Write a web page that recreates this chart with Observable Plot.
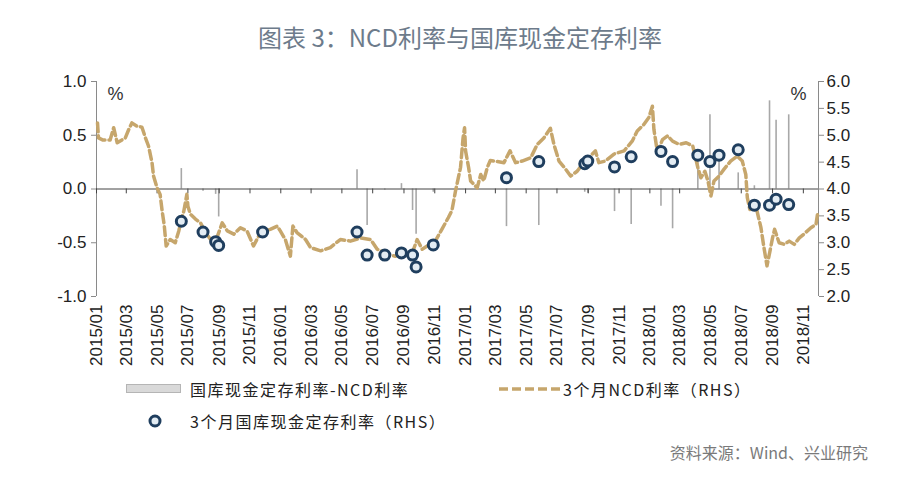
<!DOCTYPE html>
<html>
<head>
<meta charset="utf-8">
<script src="https://cdn.jsdelivr.net/npm/d3@7"></script>
<script src="https://cdn.jsdelivr.net/npm/@observablehq/plot@0.6"></script>
<style>
  html, body { margin: 0; padding: 0; background: #fff; }
  #wrap { position: relative; width: 900px; height: 478px; overflow: hidden; background: #fff; }
  #chart { position: absolute; left: 0; top: 0; }
  .title { position: absolute; left: 0; width: 920px; text-align: center; top: 23px; font: 24px "Noto Sans CJK SC", sans-serif; color: #6d7b8b; line-height: 28px; }
  .leg { position: absolute; font: 16px "Noto Sans CJK SC", sans-serif; color: #222; letter-spacing: 1.5px; line-height: 20px; white-space: nowrap; }
  .src { position: absolute; right: 32px; top: 441px; font: 16px "Noto Sans CJK SC", sans-serif; color: #7a7a7a; line-height: 22px; }
  .sw { position: absolute; }
</style>
</head>
<body>
<div id="wrap">
  <div id="chart"></div>
  <div class="title">图表 3：NCD利率与国库现金定存利率</div>
  <svg class="sw" style="left:126px;top:383px" width="56" height="12"><rect x="0.5" y="1.5" width="54" height="8" fill="#d9d9d9" stroke="#b5b5b5"/></svg>
  <div class="leg" style="left:190px;top:379px">国库现金定存利率-NCD利率</div>
  <svg class="sw" style="left:498px;top:383px" width="64" height="12"><line x1="1" y1="6" x2="63" y2="6" stroke="#c6a66c" stroke-width="3.5" stroke-dasharray="9,4"/></svg>
  <div class="leg" style="left:563px;top:379px">3个月NCD利率（RHS）</div>
  <svg class="sw" style="left:146px;top:412px" width="18" height="18"><circle cx="9" cy="9" r="5" fill="#e3ecf3" stroke="#1f3e5e" stroke-width="3"/></svg>
  <div class="leg" style="left:190px;top:411px">3个月国库现金定存利率（RHS）</div>
  <div class="src">资料来源：Wind、兴业研究</div>
</div>
<script>
// ---- data ----
const ncdDates = [
  "2015-01-03","2015-01-05","2015-01-14","2015-01-28","2015-02-04","2015-02-11","2015-02-27","2015-03-06","2015-03-12","2015-03-22",
  "2015-04-01","2015-04-08","2015-04-14","2015-04-21","2015-04-24","2015-05-01","2015-05-07","2015-05-11","2015-05-15","2015-05-19",
  "2015-05-27","2015-06-06","2015-06-13","2015-06-19","2015-06-23","2015-06-29","2015-07-01","2015-07-06","2015-07-16","2015-07-26",
  "2015-08-05","2015-08-15","2015-08-25","2015-09-07","2015-09-17","2015-09-30","2015-10-13","2015-10-26","2015-11-08","2015-11-22",
  "2015-12-11","2015-12-25","2015-12-31","2016-01-10","2016-01-20","2016-01-25","2016-02-02","2016-02-19","2016-02-29","2016-03-20",
  "2016-04-08","2016-04-28","2016-05-18","2016-06-07","2016-06-27","2016-07-10","2016-07-30","2016-08-15","2016-09-01","2016-09-14",
  "2016-09-27","2016-10-07","2016-10-17","2016-11-02","2016-11-15","2016-11-28","2016-12-05","2016-12-12","2016-12-22","2016-12-27",
  "2016-12-30","2017-01-01","2017-01-07","2017-01-11","2017-01-17","2017-01-24","2017-01-31","2017-02-06","2017-02-13","2017-02-19",
  "2017-03-05","2017-03-18","2017-03-30","2017-04-10","2017-04-23","2017-05-10","2017-05-23","2017-06-05","2017-06-18","2017-06-25",
  "2017-07-05","2017-07-18","2017-07-28","2017-08-10","2017-08-23","2017-09-05","2017-09-15","2017-09-22","2017-10-05","2017-10-22",
  "2017-11-11","2017-11-27","2017-12-07","2017-12-20","2017-12-30","2018-01-06","2018-01-09","2018-01-16","2018-01-26","2018-02-05",
  "2018-02-15","2018-02-28","2018-03-14","2018-03-27","2018-04-06","2018-04-12","2018-04-20","2018-04-26","2018-05-02","2018-05-08",
  "2018-05-18","2018-05-28","2018-06-10","2018-06-23","2018-07-03","2018-07-10","2018-07-13","2018-07-18","2018-07-30","2018-08-09",
  "2018-08-15","2018-08-21","2018-08-27","2018-09-01","2018-09-05","2018-09-14","2018-09-24","2018-10-04","2018-10-14","2018-10-24",
  "2018-11-02","2018-11-16","2018-11-26","2018-11-29"
];
const ncdValues = [
  5.23,4.95,4.91,4.91,5.14,4.86,4.95,5.11,5.23,5.17,
  5.15,4.95,4.80,4.49,4.24,4.02,3.90,3.59,3.34,2.94,
  3.06,3.00,3.22,3.47,3.59,3.90,3.68,3.53,3.44,3.37,
  3.19,3.06,3.03,3.37,3.22,3.16,3.28,3.22,2.94,3.19,
  3.25,3.31,3.22,3.06,2.75,3.31,3.19,3.06,2.91,2.85,
  2.91,3.06,3.03,3.09,3.06,2.88,2.79,2.75,2.85,2.72,
  3.06,2.88,2.94,3.03,3.25,3.47,3.60,3.96,4.40,4.95,
  5.14,4.71,4.40,4.15,4.09,4.02,4.27,4.15,4.40,4.53,
  4.51,4.49,4.71,4.49,4.52,4.58,4.83,4.95,5.13,4.83,
  4.52,4.37,4.24,4.33,4.49,4.61,4.71,4.49,4.52,4.65,
  4.71,4.89,5.08,5.20,5.33,5.54,5.11,4.68,4.92,4.99,
  4.89,4.83,4.86,4.80,4.40,4.21,4.33,4.15,3.87,4.15,
  4.24,4.37,4.52,4.61,4.52,4.27,3.84,3.62,3.68,3.28,
  2.91,2.57,2.85,3.09,3.25,3.00,2.97,3.03,2.97,3.09,
  3.16,3.28,3.34,3.53
];
const tcdDates = [
  "2015-06-18","2015-07-31","2015-08-25","2015-08-31","2015-11-26","2016-05-31","2016-06-20","2016-07-25","2016-08-27","2016-09-18",
  "2016-09-25","2016-10-29","2017-03-23","2017-05-26","2017-08-25","2017-08-31","2017-10-23","2017-11-25","2018-01-23","2018-02-15",
  "2018-04-06","2018-04-30","2018-05-18","2018-06-25","2018-07-27","2018-08-26","2018-09-08","2018-10-03"
];
const tcdValues = [
  3.40,3.20,3.02,2.95,3.20,3.20,2.77,2.77,2.81,2.77,
  2.55,2.96,4.21,4.51,4.47,4.52,4.41,4.60,4.70,4.51,
  4.63,4.51,4.63,4.73,3.70,3.70,3.81,3.71
];
const spreadValues = [
  0.19,-0.02,-0.05,-0.26,0.00,0.18,-0.34,-0.01,0.05,-0.20,
  -0.42,-0.03,-0.35,-0.34,-0.03,-0.04,-0.21,-0.33,-0.16,-0.37,
  0.26,0.69,0.30,0.15,0.03,0.82,0.64,0.69
];
const leftTicks = [-1, -0.5, 0, 0.5, 1];
const rightTicks = [2.0, 2.5, 3.0, 3.5, 4.0, 4.5, 5.0, 5.5, 6.0];
const xStart = "2015-01-01", xEnd = "2018-12-01";

// ---- build ----
const toRight = v => (v - 4) / 2;      // RHS value -> LHS coordinate
const fromRight = y => y * 2 + 4;
const ncd = ncdDates.map((d, i) => ({date: new Date(d), v: ncdValues[i]}));
const tcd = tcdDates.map((d, i) => ({date: new Date(d), v: tcdValues[i], s: spreadValues[i]}));
const domain = [new Date(xStart), new Date(xEnd)];
const monthTicks = d3.utcMonth.every(2).range(domain[0], domain[1]);

const chart = Plot.plot({
  width: 900,
  height: 380,
  marginTop: 81,
  marginBottom: 84,
  marginLeft: 96,
  marginRight: 82,
  style: {fontFamily: "'Liberation Sans', Arial, sans-serif", fontSize: "17px", color: "#222", background: "transparent"},
  x: {type: "utc", domain, label: null},
  y: {domain: [-1, 1], label: null},
  marks: [
    Plot.ruleX(tcd, {x: "date", y1: 0, y2: "s", stroke: "#a8a8a8", strokeWidth: 1.6}),
    Plot.ruleX(domain, {stroke: "#8a8a8a", strokeWidth: 1}),
    Plot.ruleY([0], {stroke: "#444", strokeWidth: 1}),
    Plot.ruleX(monthTicks, {x: d => d, y1: 0, y2: -0.045, stroke: "#444"}),
    Plot.line(ncd, {x: "date", y: d => toRight(d.v), stroke: "#c6a66c", strokeWidth: 3.5, strokeDasharray: "9,4", curve: "linear"}),
    Plot.dot(tcd, {x: "date", y: d => toRight(d.v), r: 5, fill: "#e3ecf3", stroke: "#1f3e5e", strokeWidth: 3}),
    Plot.axisY({anchor: "left", ticks: leftTicks, tickFormat: d => d.toFixed(1), tickSize: 5, tickPadding: 5, stroke: "#8a8a8a", fill: "#222", fontSize: 17}),
    Plot.axisY({anchor: "right", ticks: rightTicks.map(toRight), tickFormat: d => fromRight(d).toFixed(1), tickSize: 5, tickPadding: 3, stroke: "#8a8a8a", fill: "#222", fontSize: 17}),
    Plot.axisX({anchor: "bottom", ticks: monthTicks, tickFormat: d3.utcFormat("%Y/%m"), tickRotate: -90, tickSize: 0, tickPadding: 8, fill: "#222", fontSize: 17}),
    Plot.text(["%"], {frameAnchor: "top-left", dx: 11, dy: 6, fontSize: 18, fill: "#333", textAnchor: "start", lineAnchor: "top"}),
    Plot.text(["%"], {frameAnchor: "top-right", dx: -12, dy: 6, fontSize: 18, fill: "#333", textAnchor: "end", lineAnchor: "top"})
  ]
});
document.getElementById("chart").appendChild(chart);
</script>
</body>
</html>
